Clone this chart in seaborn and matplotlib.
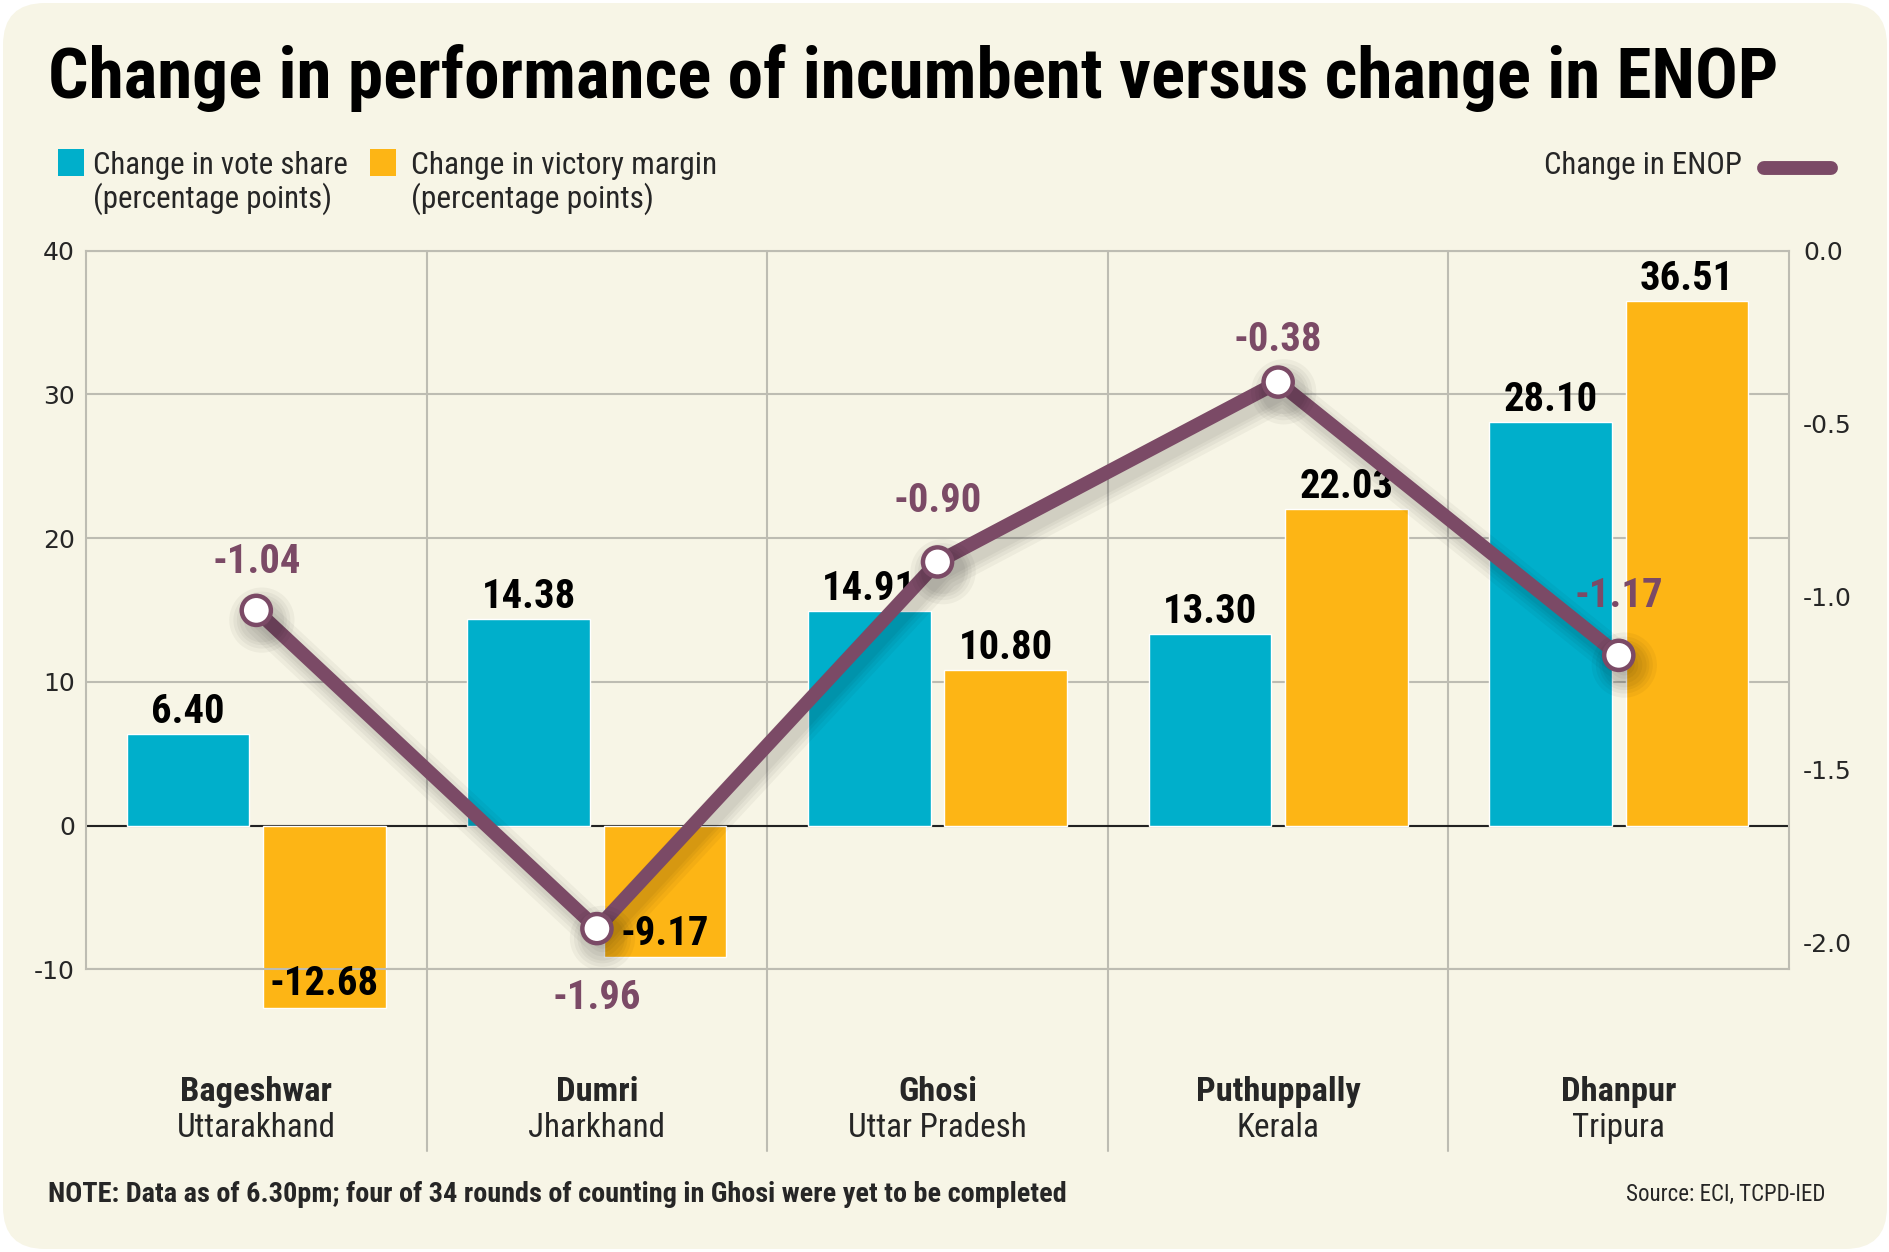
import numpy as np
import pandas as pd
import matplotlib
matplotlib.use('Agg')
import matplotlib.pyplot as plt
import matplotlib.patheffects as pe
from matplotlib import font_manager
from matplotlib.patches import FancyBboxPatch, Rectangle
from matplotlib.lines import Line2D
import seaborn as sns

# Data
constituencies = ['Bageshwar', 'Dumri', 'Ghosi', 'Puthuppally', 'Dhanpur']
states = ['Uttarakhand', 'Jharkhand', 'Uttar Pradesh', 'Kerala', 'Tripura']
vote_share = [6.40, 14.38, 14.91, 13.30, 28.10]
victory_margin = [-12.68, -9.17, 10.80, 22.03, 36.51]
enop = [-1.04, -1.96, -0.90, -0.38, -1.17]
left_ticks = [-10, 0, 10, 20, 30, 40]
right_ticks = [0.0, -0.5, -1.0, -1.5, -2.0]
enop_label_offsets = [35, -50, 44, 30, 43]  # points, label placement only

BLUE = '#00AFCB'
ORANGE = '#FDB515'
PURPLE = '#7B4A66'
CREAM = '#F7F5E6'
GRID = '#BDBCB2'

sns.set_theme(style='white')

# pick the narrowest family that is installed
installed = {f.name for f in font_manager.fontManager.ttflist}
COND_FONT = next((n for n in ['Liberation Sans Narrow', 'DejaVu Sans Condensed', 'Roboto Condensed',
                              'Roboto', 'Liberation Sans'] if n in installed), 'DejaVu Sans')
plt.rcParams['font.family'] = [COND_FONT, 'DejaVu Sans']
plt.rcParams['axes.unicode_minus'] = False

df = pd.DataFrame({
    'seat': constituencies * 2,
    'series': ['vote'] * 5 + ['margin'] * 5,
    'value': vote_share + victory_margin,
})

fig = plt.figure(figsize=(18.9, 12.52), dpi=100)
fig.patch.set_facecolor('white')

# rounded cream panel
bg = fig.add_axes([0, 0, 1, 1], zorder=-10)
bg.set_xlim(0, 1890)
bg.set_ylim(0, 1252)
bg.axis('off')
bg.add_patch(FancyBboxPatch((3, 3), 1884, 1246, boxstyle='round,pad=0,rounding_size=42',
                            fc=CREAM, ec='none'))

ax = fig.add_axes([0.0455, 0.2257, 0.9011, 0.5741])
ax.set_facecolor('none')
sns.barplot(data=df, x='seat', y='value', hue='series', palette=[BLUE, ORANGE],
            width=0.8, gap=0.1, saturation=1, legend=False, ax=ax, zorder=2)
for bar in ax.patches:
    bar.set_clip_on(False)
ax.set_xlim(-0.5, 4.5)
ax.set_ylim(-10, 40)
ax.set_yticks(left_ticks)
ax.set_yticklabels([str(t) for t in left_ticks], family='DejaVu Sans')
ax.set_xticks([])
ax.set_xlabel('')
ax.set_ylabel('')
ax.yaxis.grid(True, color=GRID, lw=1.5, zorder=0)
ax.set_axisbelow(True)
ax.tick_params(axis='y', length=0, labelsize=18, pad=8)
for s in ax.spines.values():
    s.set_color(GRID)
    s.set_linewidth(1.5)
ax.axhline(0, color='#222222', lw=1.5, zorder=1.5)
for b in np.arange(0.5, len(constituencies) - 0.5):
    ax.axvline(b, ymin=-0.2527, ymax=1, color=GRID, lw=1.5, clip_on=False, zorder=0.5)

# bar value labels
bar_labels = []
for container, values in zip(ax.containers, [vote_share, victory_margin]):
    for bar, v in zip(container, values):
        x = bar.get_x() + bar.get_width() / 2
        off = 8 if v >= 0 else 9
        t = ax.annotate(f'{v:.2f}', xy=(x, v), xytext=(0, off), textcoords='offset points',
                        ha='center', va='baseline', fontsize=34, fontweight='bold',
                        color='black', annotation_clip=False, zorder=4)
        bar_labels.append(t)

# category labels
name_texts, state_texts = [], []
for i, (name, st) in enumerate(zip(constituencies, states)):
    name_texts.append(ax.text(i, -0.1706, name, transform=ax.get_xaxis_transform(),
                              ha='center', va='center', fontsize=24, fontweight='bold'))
    state_texts.append(ax.text(i, -0.2207, st, transform=ax.get_xaxis_transform(),
                               ha='center', va='center', fontsize=24))

# ENOP line on secondary axis
ax2 = ax.twinx()
shadow = [pe.SimpleLineShadow(offset=(4, -7), shadow_color='black', alpha=0.04, linewidth=w)
          for w in (26, 20, 15, 11)]
sns.lineplot(x=np.arange(len(enop)), y=enop, ax=ax2, color=PURPLE, lw=10,
             marker='o', ms=21, mfc='white', mec=PURPLE, mew=3.2,
             solid_joinstyle='round', solid_capstyle='round',
             path_effects=shadow + [pe.Normal()], zorder=5)
ax2.set_xlim(-0.5, 4.5)
ax2.set_ylim(-2.078, 0)
ax2.set_yticks(right_ticks)
ax2.set_yticklabels([f'{t:.1f}' for t in right_ticks], family='DejaVu Sans')
ax2.set_ylabel('')
ax2.grid(False)
ax2.tick_params(axis='y', length=0, labelsize=18, pad=10)
for s in ax2.spines.values():
    s.set_visible(False)

enop_labels = []
for i, (v, off) in enumerate(zip(enop, enop_label_offsets)):
    enop_labels.append(ax2.annotate(f'{v:.2f}', xy=(i, v), xytext=(0, off),
                                    textcoords='offset points', ha='center', va='center',
                                    fontsize=34, fontweight='bold', color=PURPLE, zorder=6))

# title
title = fig.text(0.0254, 0.9377, 'Change in performance of incumbent versus change in ENOP',
                 fontsize=52, fontweight='bold', va='center', ha='left', color='black')

# legend
fig.patches.append(Rectangle((0.0307, 0.8596), 0.0138, 0.0212, transform=fig.transFigure,
                             fc=BLUE, ec='none'))
leg1 = fig.text(0.0492, 0.8535, 'Change in vote share\n(percentage points)', fontsize=24,
                va='center', ha='left', linespacing=1.1)
fig.patches.append(Rectangle((0.1958, 0.8596), 0.0138, 0.0212, transform=fig.transFigure,
                             fc=ORANGE, ec='none'))
leg2 = fig.text(0.2175, 0.8535, 'Change in victory margin\n(percentage points)', fontsize=24,
                va='center', ha='left', linespacing=1.1)
leg3 = fig.text(0.9217, 0.8675, 'Change in ENOP', fontsize=24, va='center', ha='right')
fig.lines.append(Line2D([0.9335, 0.969], [0.8662, 0.8662], transform=fig.transFigure,
                        color=PURPLE, lw=10, solid_capstyle='round'))

# footer
note = fig.text(0.0254, 0.046,
                'NOTE: Data as of 6.30pm; four of 34 rounds of counting in Ghosi were yet to be completed',
                fontsize=21, fontweight='bold', va='center', ha='left')
source = fig.text(0.966, 0.046, 'Source: ECI, TCPD-IED', fontsize=18, va='center', ha='right')

# size the texts to the widths they take in the reference (pixels)
fig.canvas.draw()
renderer = fig.canvas.get_renderer()


def fit(texts, sample, target_px):
    w = sample.get_window_extent(renderer).width
    size = sample.get_fontsize() * target_px / w
    for t in texts:
        t.set_fontsize(size)


fit([title], title, 1730)
fit([leg1], leg1, 256)
fit([leg2], leg2, 307)
fit([leg3], leg3, 198)
fit([note], note, 1019)
fit([source], source, 199)
fit(name_texts, name_texts[0], 152)
fit(state_texts, state_texts[0], 159)
fit(bar_labels + enop_labels, bar_labels[1], 94)

fig.savefig('out.png', dpi=100, facecolor=fig.get_facecolor())
